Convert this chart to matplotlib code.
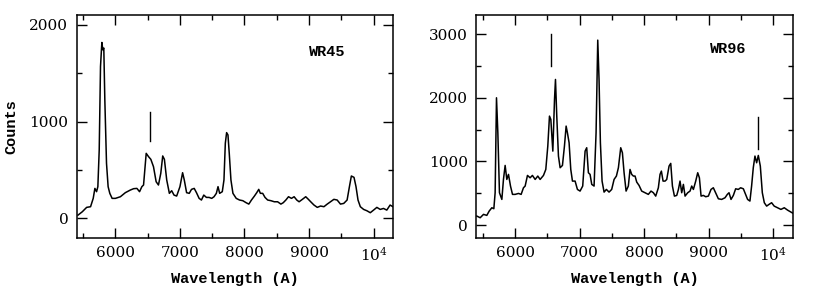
import matplotlib
matplotlib.use('Agg')
import matplotlib.pyplot as plt
from matplotlib.ticker import MultipleLocator, FixedLocator, FixedFormatter

# WR45 spectrum
wl45 = [5420, 5487, 5554, 5615, 5656, 5682, 5708, 5728, 5749, 5769, 5790, 5805, 5820, 5836,
        5862, 5887, 5913, 5949, 6000, 6077, 6154, 6231, 6282, 6333, 6374, 6410, 6436, 6477,
        6513, 6549, 6590, 6631, 6667, 6703, 6733, 6759, 6795, 6836, 6872, 6908, 6949, 7000,
        7041, 7067, 7103, 7144, 7179, 7221, 7256, 7297, 7333, 7369, 7410, 7451, 7492, 7528,
        7564, 7590, 7615, 7656, 7682, 7703, 7723, 7744, 7764, 7790, 7821, 7872, 7923, 7974,
        8026, 8067, 8108, 8154, 8190, 8221, 8246, 8282, 8318, 8359, 8410, 8462, 8513, 8564,
        8600, 8641, 8682, 8728, 8769, 8810, 8846, 8897, 8949, 8990, 9026, 9077, 9128, 9179,
        9231, 9282, 9333, 9385, 9436, 9487, 9538, 9590, 9626, 9656, 9697, 9728, 9759, 9795,
        9846, 9897, 9949, 10000, 10051, 10103, 10154, 10205, 10256, 10300]
cts45 = [34, 69, 114, 121, 207, 310, 276, 328, 707, 1569, 1817, 1741, 1759, 1224,
         569, 328, 259, 207, 207, 224, 266, 293, 307, 310, 276, 328, 345, 672,
         638, 610, 534, 379, 345, 466, 645, 610, 397, 259, 286, 241, 231, 328,
         472, 397, 266, 259, 300, 310, 266, 207, 190, 241, 217, 217, 207, 224,
         259, 328, 259, 276, 397, 776, 886, 862, 672, 397, 259, 207, 190, 183,
         162, 148, 190, 231, 266, 300, 259, 259, 217, 190, 183, 172, 172, 148,
         162, 190, 224, 207, 224, 190, 172, 197, 224, 197, 172, 138, 114, 128,
         121, 148, 172, 197, 190, 148, 155, 190, 328, 438, 424, 328, 190, 121,
         93, 79, 59, 86, 114, 93, 103, 86, 138, 121]

# WR96 spectrum
wl96 = [5407, 5458, 5510, 5561, 5598, 5639, 5670, 5690, 5711, 5732, 5757, 5794, 5819, 5845,
        5871, 5897, 5928, 5959, 6000, 6052, 6093, 6129, 6155, 6191, 6232, 6268, 6310, 6351,
        6387, 6439, 6475, 6506, 6532, 6553, 6584, 6610, 6625, 6645, 6671, 6697, 6733, 6764,
        6790, 6810, 6836, 6862, 6888, 6929, 6965, 7006, 7047, 7084, 7109, 7135, 7161, 7187,
        7223, 7254, 7280, 7300, 7321, 7347, 7378, 7414, 7455, 7496, 7533, 7569, 7600, 7636,
        7662, 7688, 7719, 7754, 7780, 7806, 7832, 7858, 7884, 7920, 7961, 8013, 8064, 8105,
        8142, 8178, 8219, 8245, 8266, 8292, 8323, 8349, 8385, 8411, 8437, 8468, 8504, 8530,
        8555, 8581, 8607, 8633, 8674, 8710, 8736, 8762, 8798, 8829, 8855, 8881, 8916, 8953,
        8994, 9035, 9071, 9107, 9149, 9200, 9252, 9288, 9314, 9345, 9381, 9417, 9458, 9494,
        9536, 9561, 9602, 9638, 9664, 9690, 9716, 9742, 9768, 9799, 9830, 9861, 9897, 9933,
        9974, 10014, 10066, 10118, 10170, 10221, 10273, 10309]
cts96 = [141, 115, 168, 152, 220, 272, 257, 508, 2000, 1450, 508, 403, 717, 937,
         717, 796, 613, 482, 482, 497, 482, 586, 613, 780, 743, 780, 717, 770,
         717, 780, 874, 1241, 1712, 1660, 1162, 1974, 2288, 1712, 1084, 901, 937, 1241,
         1555, 1450, 1293, 874, 691, 691, 560, 534, 613, 1162, 1215, 822, 796, 639,
         613, 1450, 2906, 2288, 1293, 691, 518, 560, 518, 560, 717, 770, 901, 1215,
         1136, 822, 534, 613, 874, 796, 770, 770, 675, 623, 534, 508, 482, 534,
         508, 455, 586, 796, 848, 691, 691, 717, 927, 969, 613, 455, 466, 560,
         691, 508, 639, 455, 508, 534, 613, 560, 691, 822, 743, 455, 466, 445,
         455, 560, 586, 508, 413, 403, 429, 482, 508, 403, 466, 570, 560, 586,
         570, 508, 403, 377, 613, 901, 1084, 979, 1094, 927, 508, 351, 298, 324,
         351, 298, 272, 246, 272, 235, 204, 183]

# line marks: (wavelength, ymin, ymax)
marks45 = [(6530, 800, 1100)]
marks96 = [(6553, 2500, 3000), (9757, 1200, 1700)]

plt.rcParams['font.family'] = 'DejaVu Serif'
plt.rcParams['mathtext.fontset'] = 'dejavuserif'
plt.rcParams['xtick.direction'] = 'in'
plt.rcParams['ytick.direction'] = 'in'
plt.rcParams['xtick.top'] = True
plt.rcParams['ytick.right'] = True


def applyPlotStyle(ax, ymin, ymax, ystep):
    ax.set_xlim(5400, 10300)
    ax.set_ylim(ymin, ymax)
    ax.xaxis.set_major_locator(FixedLocator([6000, 7000, 8000, 9000, 10000]))
    ax.xaxis.set_major_formatter(FixedFormatter(['6000', '7000', '8000', '9000', '$10^4$']))
    ax.xaxis.set_minor_locator(MultipleLocator(500))
    ax.yaxis.set_major_locator(MultipleLocator(ystep))
    ax.yaxis.set_minor_locator(MultipleLocator(ystep / 2))
    ax.tick_params(which='major', length=7, width=1, labelsize=11, pad=6)
    ax.tick_params(which='minor', length=3.5, width=1)
    for s in ax.spines.values():
        s.set_linewidth(1.1)
    ax.set_xlabel('Wavelength (A)', fontsize=11, family='Liberation Mono', fontweight='bold', labelpad=6)


fig = plt.figure(figsize=(8.3, 3.01), dpi=100)

ax1 = fig.add_axes([0.0924, 0.21, 0.381, 0.74])
ax1.plot(wl45, cts45, 'k-', linewidth=1.1)
for x, y0, y1 in marks45:
    ax1.plot([x, x], [y0, y1], 'k-', linewidth=1)
ax1.text(9000, 1720, 'WR45', fontsize=11, family='Liberation Mono', fontweight='bold', va='center')
applyPlotStyle(ax1, -200, 2100, 1000)
ax1.set_ylabel('Counts', fontsize=11, family='Liberation Mono', fontweight='bold', labelpad=8)

ax2 = fig.add_axes([0.574, 0.21, 0.381, 0.74])
ax2.plot(wl96, cts96, 'k-', linewidth=1.1)
for x, y0, y1 in marks96:
    ax2.plot([x, x], [y0, y1], 'k-', linewidth=1)
ax2.text(9020, 2765, 'WR96', fontsize=11, family='Liberation Mono', fontweight='bold', va='center')
applyPlotStyle(ax2, -200, 3300, 1000)

fig.savefig('out.png', dpi=100)
